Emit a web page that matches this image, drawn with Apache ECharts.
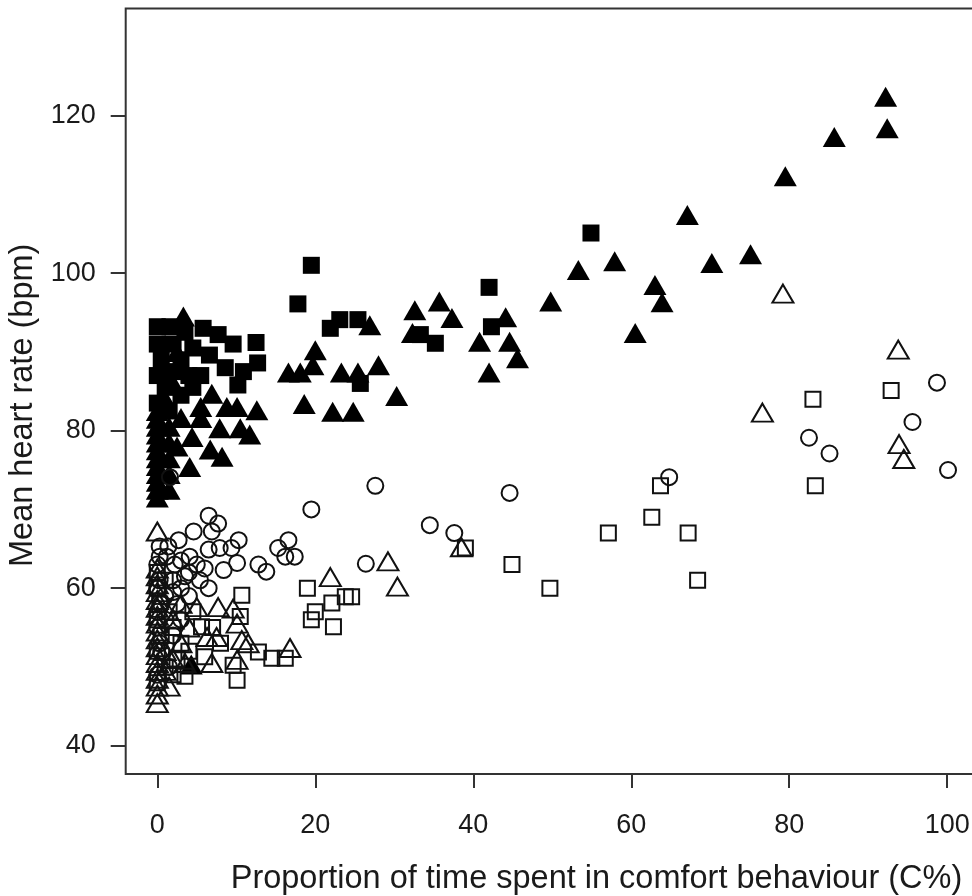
<!DOCTYPE html>
<html>
<head>
<meta charset="utf-8">
<script src="https://cdn.jsdelivr.net/npm/echarts@6/dist/echarts.min.js"></script>
<style>
html,body{margin:0;padding:0;background:#fff;}
#chart{width:972px;height:896px;}
</style>
</head>
<body>
<div id="chart"></div>
<script>
// Axis tick labels
const xTicks = [0, 20, 40, 60, 80, 100];
const yTicks = [40, 60, 80, 100, 120];
const xTitle = 'Proportion of time spent in comfort behaviour (C%)';
const yTitle = 'Mean heart rate (bpm)';

// Filled triangles [C%, bpm]
const filledTriangles = [
  [0,71.5],[0,72.5],[0,73.5],[0,74.5],[0,75.5],[0,76.5],[0,77.5],[0,78.5],[0,79.5],[0,80.5],[0,81.5],[0,82.5],
  [1.5,72.5],[1.5,74.5],[1.5,76.5],[1.5,78.5],[1.5,80.5],[2.5,78],[1,84],[2,86],[1,88],[2.5,90],
  [3.3,94.5],[6.9,84.7],[8.8,83.0],[10.1,83.0],[12.6,82.6],[3,81.6],[5.5,81.6],[7.9,80.3],[6.7,77.6],
  [8.2,76.7],[4.1,75.4],[10.5,80.3],[11.7,79.5],[4.4,79.2],[5.5,83],
  [20.0,90.2],[16.6,87.4],[18.1,87.4],[19.7,88.3],[23.3,87.4],[25.4,87.4],[26.9,93.4],[28.0,88.3],
  [18.6,83.4],[22.2,82.4],[24.8,82.4],[30.3,84.4],[32.6,95.3],[35.7,96.4],[37.3,94.3],[32.3,92.4],
  [44.1,94.4],[40.8,91.3],[44.6,91.3],[45.6,89.2],[42.0,87.4],[49.8,96.4],[53.3,100.4],[57.9,101.5],
  [63.0,98.5],[63.9,96.3],[60.5,92.4],[70.2,101.3],[75.1,102.4],[67.1,107.4],[79.5,112.3],[85.7,117.3],
  [92.2,122.4],[92.4,118.4],[4.3,50.3]
];

// Filled squares
const filledSquares = [
  [0,93.2],[1.6,93.2],[3.5,92.5],[5.8,93.0],[7.7,92.2],[9.6,91.0],[12.5,91.2],[12.7,88.6],[10.9,87.5],
  [10.2,85.8],[8.6,88.0],[6.6,89.6],[0,91],[0.5,89],[0,87],[1,85.5],[0,83.5],[2,91],[3,89],[4,87],
  [2,87.5],[3,84.5],[4.5,85.5],[5.5,87],[1.5,82.5],[4.5,90.5],
  [19.5,101.0],[17.8,96.1],[23.1,94.1],[21.9,93.0],[25.4,94.1],[25.7,86.0],[33.3,92.2],[35.2,91.1],
  [42.0,98.2],[42.3,93.2],[54.9,105.1]
];

// Open circles
const openCircles = [
  [100.1,75.0],[98.7,86.1],[95.6,81.1],[82.5,79.1],[85.1,77.1],[64.8,74.1],[27.6,73.0],[19.5,70.0],
  [44.6,72.1],[34.5,68.0],[37.6,67.0],[26.4,63.1],[15.3,65.1],[16.6,66.1],[16.2,64.0],[17.4,64.0],
  [12.8,63.0],[13.8,62.1],[6.5,69.2],[7.7,68.2],[4.6,67.2],[6.9,67.2],[10.3,66.1],[9.4,65.1],[7.9,65.1],
  [4.1,64.0],[6.5,64.9],[10.1,63.2],[8.4,62.3],[6.0,62.5],[5.4,61.0],[2.7,66.1],[0.3,65.3],[1.4,65.3],
  [0.3,64],[1.2,64],[2.2,63],[1.6,74.1],[0,63],[0.3,61],[0,60],[1,59],[0.5,58],[0,57],[2,61],[3,60],
  [2.5,58],[4,59],[1,56],[0,55],[0.3,53],[0.5,52],[2,54],[3,56],[1.5,50],[0,49],[4,62],[3,63.5],[5,63],
  [3.5,61.5],[2,59.5],[6.5,60]
];

// Open squares
const openSquares = [
  [83.0,84.0],[83.3,73.0],[92.9,85.1],[63.7,73.0],[62.6,69.0],[57.1,67.0],[67.2,67.0],[68.4,61.0],
  [49.7,60.0],[39.0,65.1],[44.9,63.0],[19.0,60.0],[23.8,58.9],[24.6,58.9],[22.1,58.1],[20.0,57.0],
  [19.5,56.0],[22.3,55.1],[10.7,59.1],[10.5,56.4],[5.6,55.1],[9.6,50.2],[10.1,48.3],[12.8,51.9],
  [14.5,51.1],[16.2,51.1],[6.0,51.3],[3.5,48.8],[0,62],[0,60],[0.3,58],[0,56],[0.5,54],[0,52],[1,50],
  [0,48],[2,55],[1.5,57],[3,53],[4,52],[2,49],[7,55],[8,53],[1,61],[2.5,51],[4.5,57]
];

// Open triangles
const openTriangles = [
  [79.2,97.4],[93.8,90.3],[76.6,82.3],[93.9,78.3],[94.5,76.4],[38.5,65.2],[29.2,63.4],[30.4,60.2],
  [21.9,61.4],[16.8,52.4],[5.0,57.6],[7.7,57.6],[9.6,57.4],[10.1,55.5],[6.3,53.8],[7.5,53.8],
  [10.7,53.4],[11.5,53.0],[6.9,50.5],[10.1,50.9],[0,67.2],
  [0,45.4],[0,46.5],[0,47.5],[0,48.5],[0,49.5],[0,50.5],[0,51.5],[0,52.5],[0,53.5],[0,54.5],
  [0,55.5],[0,56.5],[0,57.5],[0,58.5],[0,59.5],[0,60.5],[0,61.5],[0,62.5],
  [1,52],[2,51],[3,53],[2,56],[4,55],[3,58],[1.5,47.5],[1,49.5],[3.5,50.5]
];

const ink = '#111111';
const textColor = '#1a1a1a';
const font = 'Liberation Sans, Arial, Helvetica, sans-serif';

function openSeries(data, symbol, size) {
  return {
    type: 'scatter', data: data, symbol: symbol, symbolSize: size,
    itemStyle: { color: 'rgba(0,0,0,0)', borderColor: ink, borderWidth: 2, opacity: 1 },
    emphasis: { disabled: true }, silent: true
  };
}
function filledSeries(data, symbol, size) {
  return {
    type: 'scatter', data: data, symbol: symbol, symbolSize: size,
    itemStyle: { color: '#000000', opacity: 1 },
    emphasis: { disabled: true }, silent: true
  };
}

const chart = echarts.init(document.getElementById('chart'), null, { renderer: 'canvas' });
chart.setOption({
  animation: false,
  backgroundColor: '#ffffff',
  grid: {
    left: 125.7, top: 8.6, width: 941.6, height: 765.4,
    containLabel: false, outerBoundsMode: 'none',
    show: true, borderColor: '#333333', borderWidth: 2, backgroundColor: 'transparent'
  },
  xAxis: {
    type: 'value', min: -4, max: 115.2,
    splitLine: { show: false },
    axisLine: { show: false, onZero: false },
    axisTick: { show: true, inside: false, length: 14, customValues: xTicks,
      lineStyle: { color: '#333333', width: 2 } },
    axisLabel: { show: true, customValues: xTicks, margin: 38, fontSize: 27, color: textColor, fontFamily: font },
    name: xTitle, nameLocation: 'middle', nameGap: 89,
    nameTextStyle: { fontSize: 32.5, color: textColor, fontFamily: font }
  },
  yAxis: {
    type: 'value', min: 36.4, max: 133.6,
    splitLine: { show: false },
    axisLine: { show: false, onZero: false },
    axisTick: { show: true, inside: false, length: 15, customValues: yTicks,
      lineStyle: { color: '#333333', width: 2 } },
    axisLabel: { show: true, customValues: yTicks, margin: 30, fontSize: 27, color: textColor, fontFamily: font },
    name: yTitle, nameLocation: 'middle', nameGap: 83, nameRotate: 90,
    nameTextStyle: { fontSize: 32.5, color: textColor, fontFamily: font, padding: [0, 28, 0, 0] }
  },
  series: [
    filledSeries(filledTriangles, 'triangle', [23, 20]),
    filledSeries(filledSquares, 'rect', 17),
    openSeries(openCircles, 'circle', 16),
    openSeries(openSquares, 'rect', 15),
    openSeries(openTriangles, 'triangle', [21, 18])
  ]
});
</script>
</body>
</html>
